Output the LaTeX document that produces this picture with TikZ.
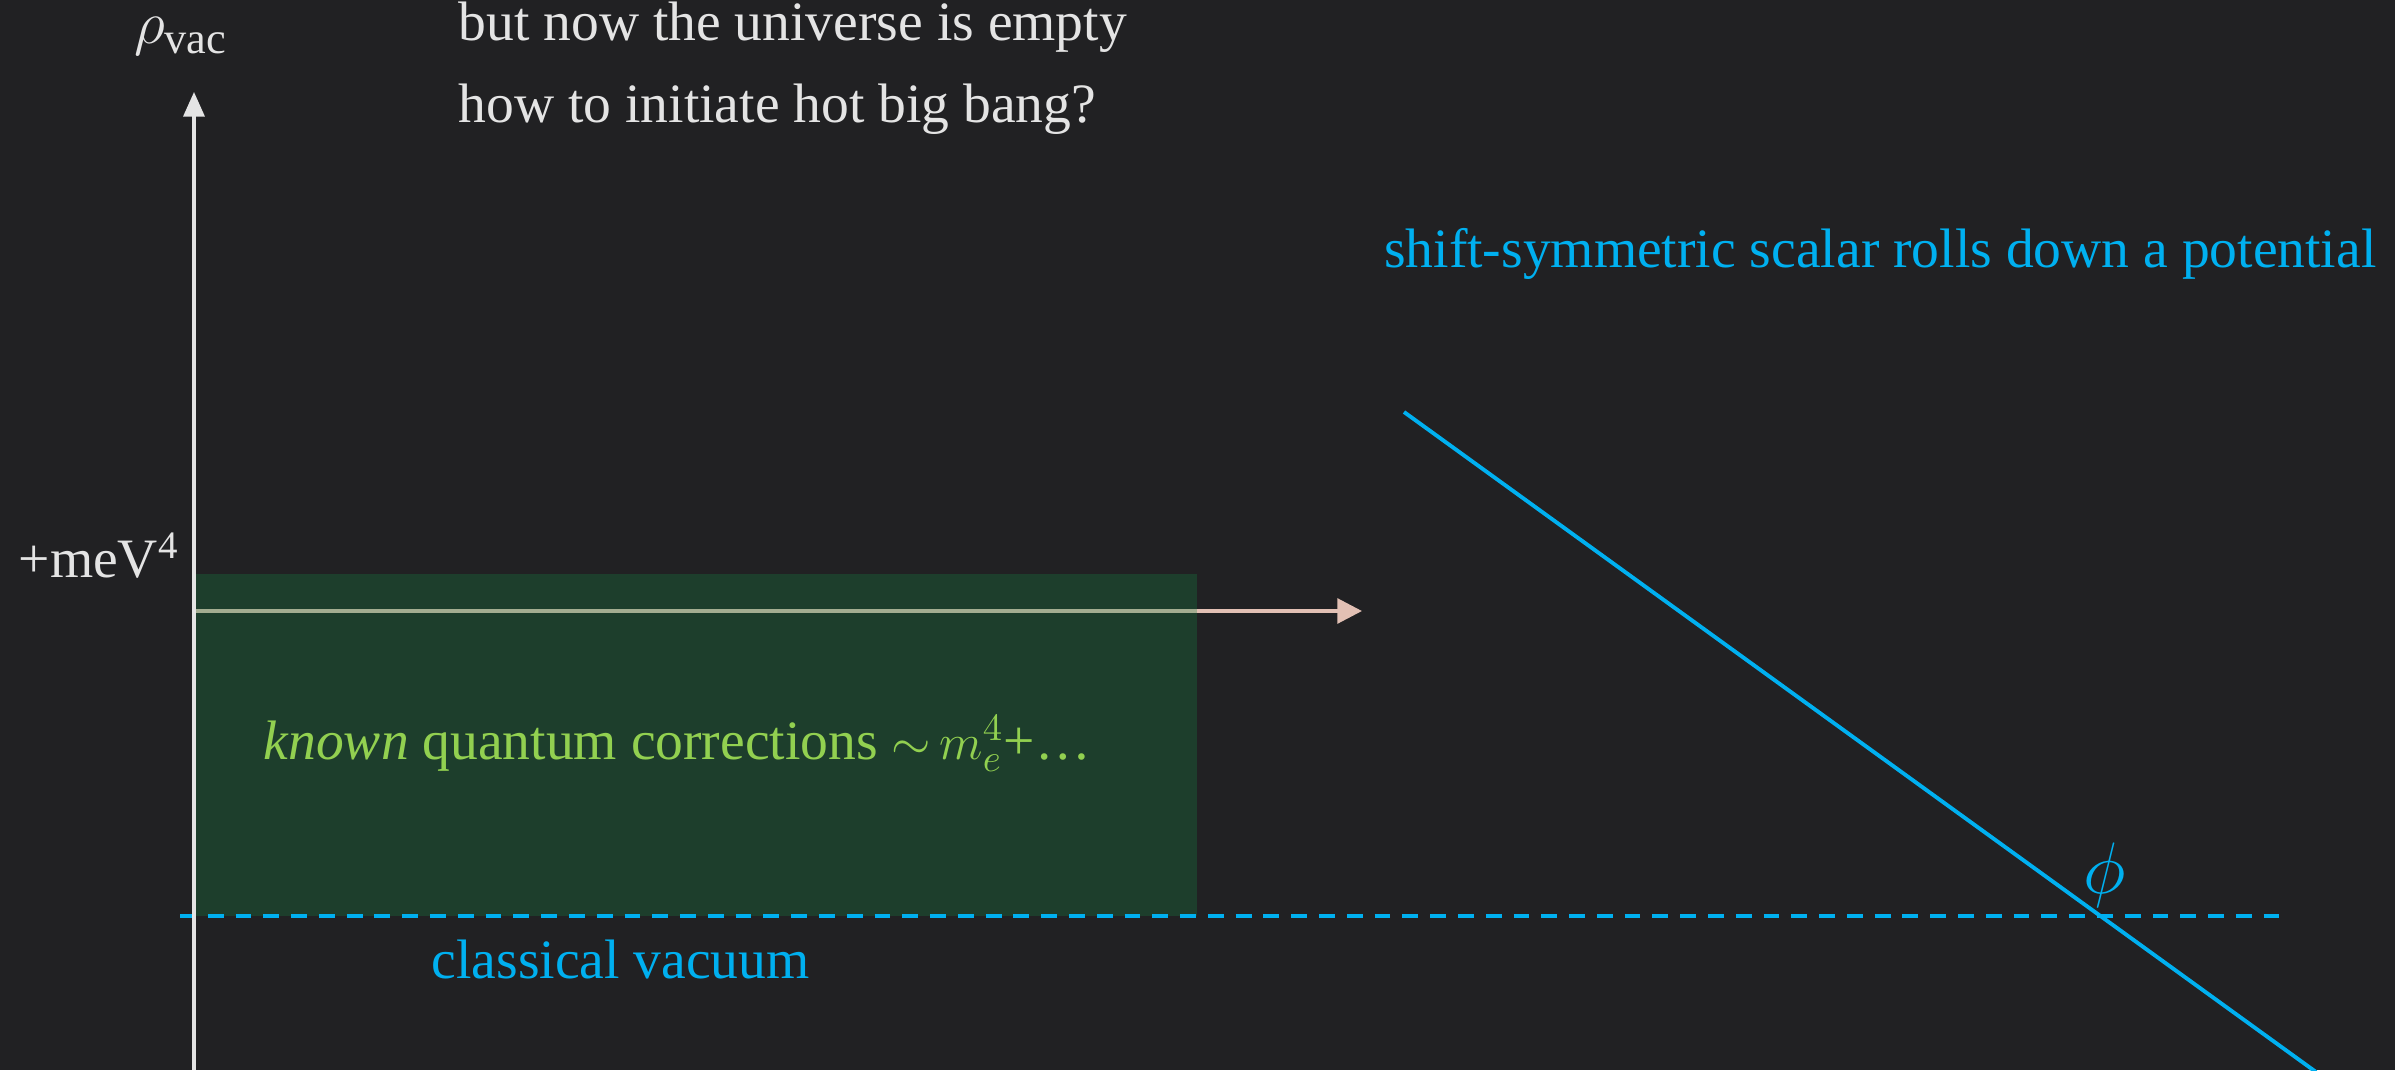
\documentclass[tikz,border=0pt]{standalone}
\usepackage{fontspec}
\setmainfont{Liberation Serif}
\usetikzlibrary{arrows.meta}
\definecolor{bgc}{RGB}{33,33,35}
\definecolor{txtc}{RGB}{228,228,228}
\definecolor{bluec}{RGB}{0,176,240}
\definecolor{greentxt}{RGB}{146,208,80}
\definecolor{greenbox}{RGB}{20,130,65}
\definecolor{pinkc}{RGB}{226,192,180}
\tikzset{
  lbl/.style={inner sep=0pt, font=\fontsize{15.8}{19}\selectfont},
  axisline/.style={draw=txtc, line width=0.9pt, -{Triangle[length=7pt,width=6pt]}},
  pinkarrow/.style={draw=pinkc, line width=1.1pt, -{Triangle[length=7pt,width=7pt]}},
  vacline/.style={draw=bluec, line width=1.4pt, dash pattern=on 4.5pt off 3.4pt},
  potline/.style={draw=bluec, line width=1.1pt}
}
\begin{document}
\begin{tikzpicture}[x=0.01cm,y=-0.01cm]
\fill[bgc] (0,0) rectangle (2395,1070);
\useasboundingbox (0,0) rectangle (2395,1070);

% coordinates
\coordinate (axbot) at (194,1070);
\coordinate (axtop) at (194,92);
\coordinate (hstart) at (194,611);
\coordinate (hend) at (1362,611);
\coordinate (vstart) at (180,916);
\coordinate (vend) at (2287,916);
\coordinate (pstart) at (1404,412);
\coordinate (pend) at (2316,1072);

% pink arrow (under the translucent box)
\draw[pinkarrow] (hstart) -- (hend);
% green box
\fill[greenbox, fill opacity=0.3] (195,574) rectangle (1197,916);
% classical vacuum dashed line
\draw[vacline] (vstart) -- (vend);
% potential
\draw[potline] (pstart) -- (pend);
% axis
\draw[axisline] (axbot) -- (axtop);

% labels
\node[lbl, text=txtc, anchor=base, font=\fontsize{18}{20}\selectfont] (rho) at (181,44) {$\rho_{\mathrm{vac}}$};
\node[lbl, text=txtc, anchor=base west] (t1) at (458,41) {but now the universe is empty};
\node[lbl, text=txtc, anchor=base west] (t2) at (458,123) {how to initiate hot big bang?};
\node[lbl, text=txtc, anchor=base east] (mev) at (180,577) {+meV\textsuperscript{4}};
\node[lbl, text=greentxt, anchor=base west] (known) at (263,759) {\textit{known} quantum corrections ${\sim}\,m_{e}^{4}$+\ldots};
\node[lbl, text=bluec, anchor=base west] (cv) at (431,978) {classical vacuum};
\node[lbl, text=bluec, anchor=base east] (shift) at (2377,267) {shift-symmetric scalar rolls down a potential};
\node[lbl, text=bluec, anchor=base, font=\fontsize{20}{22}\selectfont] (phi) at (2105,893) {$\phi$};
\end{tikzpicture}
\end{document}
